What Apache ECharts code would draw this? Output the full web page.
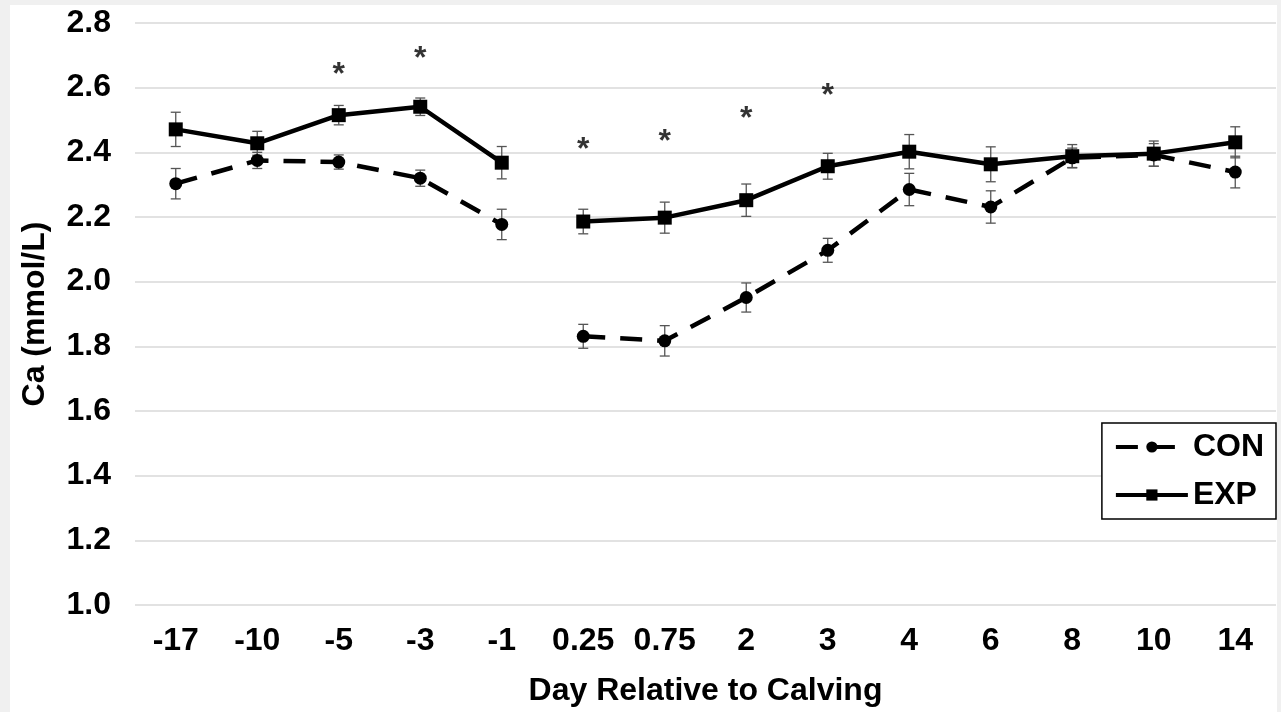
<!DOCTYPE html>
<html>
<head>
<meta charset="utf-8">
<script src="https://cdn.jsdelivr.net/npm/echarts@6/dist/echarts.min.js"></script>
<style>
  html, body { margin: 0; padding: 0; background: #f0f0f0; }
  #main { width: 1281px; height: 712px; }
</style>
</head>
<body>
<div id="main"></div>
<script>
// days relative to calving
var days = ['-17', '-10', '-5', '-3', '-1', '0.25', '0.75', '2', '3', '4', '6', '8', '10', '14'];

var conMean = [2.303, 2.375, 2.37, 2.32, 2.177, 1.831, 1.817, 1.951, 2.097, 2.285, 2.231, 2.383, 2.392, 2.339];
var conSE   = [0.047, 0.025, 0.022, 0.025, 0.047, 0.037, 0.047, 0.045, 0.037, 0.05, 0.05, 0.03, 0.035, 0.049];

var expMean = [2.471, 2.428, 2.515, 2.541, 2.368, 2.186, 2.198, 2.252, 2.357, 2.402, 2.363, 2.388, 2.396, 2.431];
var expSE   = [0.053, 0.037, 0.03, 0.027, 0.05, 0.038, 0.048, 0.05, 0.04, 0.053, 0.054, 0.036, 0.039, 0.048];

// significance markers
var starDays   = ['-5', '-3', '0.25', '0.75', '2', '3'];
var starLevels = [2.661, 2.71, 2.427, 2.452, 2.525, 2.596];

var yTicks = { min: 1.0, max: 2.8, step: 0.2 };

var gapAfter = 4; // lines break between -1 and 0.25

var font = 'Liberation Sans, Arial, sans-serif';
var dash = [22, 15];

function part(arr, pre) {
  return arr.map(function (v, i) {
    return (pre ? i <= gapAfter : i > gapAfter) ? v : '-';
  });
}

function errData(mean, se) {
  return mean.map(function (m, i) { return [i, m - se[i], m + se[i]]; });
}

function errRender(params, api) {
  var lo = api.coord([api.value(0), api.value(1)]);
  var hi = api.coord([api.value(0), api.value(2)]);
  var w = 5;
  var st = { stroke: '#555', lineWidth: 1.3 };
  return {
    type: 'group',
    children: [
      { type: 'line', shape: { x1: lo[0], y1: lo[1], x2: hi[0], y2: hi[1] }, style: st },
      { type: 'line', shape: { x1: lo[0] - w, y1: lo[1], x2: lo[0] + w, y2: lo[1] }, style: st },
      { type: 'line', shape: { x1: hi[0] - w, y1: hi[1], x2: hi[0] + w, y2: hi[1] }, style: st }
    ]
  };
}

var conLine = {
  type: 'line', name: 'CON', symbol: 'circle', symbolSize: 13, z: 3,
  lineStyle: { color: '#000', width: 4.5, type: dash },
  itemStyle: { color: '#000' }
};
var expLine = {
  type: 'line', name: 'EXP', symbol: 'rect', symbolSize: 14, z: 4,
  lineStyle: { color: '#000', width: 4.5 },
  itemStyle: { color: '#000' }
};

var chart = echarts.init(document.getElementById('main'));

chart.setOption({
  backgroundColor: '#fff',
  animation: false,
  textStyle: { fontFamily: font },
  grid: { left: 135, right: 5, top: 23, bottom: 105 },
  legend: {
    data: [
      { name: 'CON', lineStyle: { width: 4, type: dash } },
      { name: 'EXP', lineStyle: { width: 4, type: 'solid' } }
    ],
    orient: 'vertical',
    right: 5, top: 423,
    backgroundColor: '#fff',
    borderColor: '#000', borderWidth: 1.5, borderRadius: 0,
    padding: [8, 12, 8, 12],
    itemGap: 16, itemWidth: 72, itemHeight: 14,
    lineStyle: { width: 4 },
    textStyle: { fontSize: 32, fontWeight: 'bold', color: '#000', fontFamily: font }
  },
  xAxis: {
    type: 'category',
    data: days,
    boundaryGap: true,
    name: 'Day Relative to Calving',
    nameLocation: 'middle', nameGap: 70,
    nameTextStyle: { fontSize: 32, fontWeight: 'bold', color: '#000' },
    axisLine: { show: false },
    axisTick: { show: false },
    axisLabel: { margin: 20, fontSize: 32, fontWeight: 'bold', color: '#000' }
  },
  yAxis: {
    type: 'value',
    min: yTicks.min, max: yTicks.max, interval: yTicks.step,
    name: 'Ca (mmol/L)',
    nameLocation: 'middle', nameGap: 84,
    nameTextStyle: { fontSize: 32, fontWeight: 'bold', color: '#000' },
    axisLine: { show: false },
    axisTick: { show: false },
    splitLine: { lineStyle: { color: '#d9d9d9', width: 1.5 } },
    axisLabel: {
      margin: 24, fontSize: 32, fontWeight: 'bold', color: '#000',
      formatter: function (v) { return v.toFixed(1); }
    }
  },
  graphic: [
    { type: 'rect', z: 100, shape: { x: 0, y: 0, width: 10, height: 712 }, style: { fill: '#f0f0f0' } },
    { type: 'rect', z: 100, shape: { x: 0, y: 0, width: 1281, height: 5 }, style: { fill: '#f0f0f0' } },
    { type: 'rect', z: 100, shape: { x: 1277, y: 0, width: 4, height: 712 }, style: { fill: '#f0f0f0' } }
  ],
  series: [
    { type: 'custom', name: 'conErr', renderItem: errRender, data: errData(conMean, conSE), z: 2, encode: { x: 0, y: [1, 2] } },
    { type: 'custom', name: 'expErr', renderItem: errRender, data: errData(expMean, expSE), z: 2, encode: { x: 0, y: [1, 2] } },
    Object.assign({ data: part(conMean, true) }, conLine),
    Object.assign({ data: part(conMean, false) }, conLine),
    Object.assign({ data: part(expMean, true) }, expLine),
    Object.assign({ data: part(expMean, false) }, expLine),
    {
      type: 'scatter', name: 'sig', symbolSize: 0,
      data: starDays.map(function (d, i) { return [d, starLevels[i]]; }),
      label: {
        show: true, position: 'inside', formatter: '*',
        fontSize: 32, fontWeight: 'bold', color: '#000', offset: [0, 7]
      }
    }
  ]
});
</script>
</body>
</html>
